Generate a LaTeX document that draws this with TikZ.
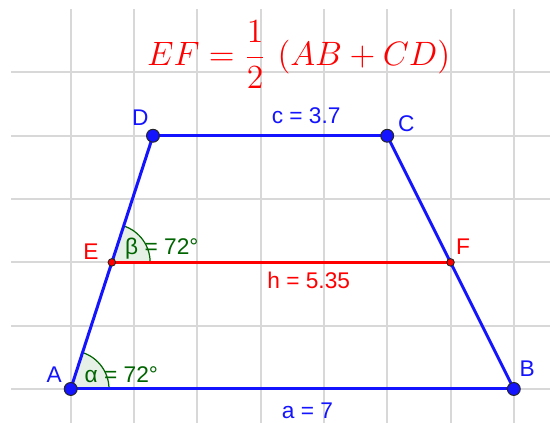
\documentclass[tikz,border=0pt]{standalone}
\usepackage{fontspec}
\setmainfont{Liberation Sans}
\usepackage{graphicx}
\usepackage{xcolor}
\usepackage{tikz}
\definecolor{gridgray}{HTML}{D8D8D8}
\definecolor{geoblue}{HTML}{1414FF}
\definecolor{geored}{HTML}{FF0000}
\definecolor{anggreen}{HTML}{006400}
\definecolor{angbg}{HTML}{E6F0E6}
\tikzset{
  gridline/.style={draw=gridgray, line width=0.9pt},
  sideseg/.style={draw=geoblue, line width=1.35pt},
  midseg/.style={draw=geored, line width=1.15pt},
  bigpt/.style={circle, fill=geoblue, draw=black!85, line width=0.45pt, minimum size=5.8pt, inner sep=0pt},
  smallpt/.style={circle, fill=geored, draw=black!85, line width=0.4pt, minimum size=3.4pt, inner sep=0pt},
  angsector/.style={fill=angbg, draw=anggreen, line width=0.55pt},
  ptlabel/.style={anchor=base, inner sep=0pt, font=\fontsize{10.2}{12}\selectfont},
  bluelabel/.style={ptlabel, text=geoblue},
  redlabel/.style={ptlabel, text=geored},
  anglabel/.style={ptlabel, text=anggreen}
}

\begin{document}
\begin{tikzpicture}[x=1cm,y=1cm]

  % frame
  \useasboundingbox[fill=white] (-1.117,-0.537) rectangle (7.572,6.145);

  % grid
  \foreach \gx in {0,...,7} \draw[gridline] (\gx,-0.537) -- (\gx,6.003);
  \foreach \gy in {0,...,5} \draw[gridline] (-0.943,\gy) -- (7.572,\gy);

  % vertices
  \coordinate (A) at (0,0);
  \coordinate (B) at (7,0);
  \coordinate (C) at (5,4);
  \coordinate (D) at (1.3,4);
  \coordinate (E) at (0.65,2);
  \coordinate (F) at (6,2);

  % angles
  \draw[angsector] (A) -- ++(0:0.605) arc[start angle=0, end angle=72, radius=0.605] -- cycle;
  \draw[angsector] (E) -- ++(0:0.605) arc[start angle=0, end angle=72, radius=0.605] -- cycle;

  % trapezoid
  \draw[sideseg] (A) -- (B);
  \draw[sideseg] (B) -- (C);
  \draw[sideseg] (C) -- (D);
  \draw[sideseg] (D) -- (A);

  % midline
  \draw[midseg] (E) -- (F);

  % points
  \node[bigpt] (pA) at (A) {};
  \node[bigpt] (pB) at (B) {};
  \node[bigpt] (pC) at (C) {};
  \node[bigpt] (pD) at (D) {};
  \node[smallpt] (pE) at (E) {};
  \node[smallpt] (pF) at (F) {};

  % labels
  \node[bluelabel] (labA) at (-0.26,0.10) {A};
  \node[bluelabel] (labB) at (7.21,0.19) {B};
  \node[bluelabel] (labC) at (5.30,4.06) {C};
  \node[bluelabel] (labD) at (1.10,4.155) {D};
  \node[redlabel] (labE) at (0.32,2.04) {E};
  \node[redlabel] (labF) at (6.20,2.12) {F};

  \node[bluelabel] (labc) at (3.72,4.19) {c = 3.7};
  \node[redlabel] (labh) at (3.76,1.58) {h = 5.35};
  \node[bluelabel] (laba) at (3.74,-0.47) {a = 7};

  \node[anglabel] (alpha) at (0.80,0.11) {α = 72°};
  \node[anglabel] (beta) at (1.44,2.12) {β = 72°};

  % formula
  \node[anchor=base west, inner sep=0pt, text=geored, font=\fontsize{14.4}{17}\selectfont] (formula) at (1.20,5.11) {\scalebox{1.055}{$\displaystyle EF=\frac{1}{2}\,\left(AB+CD\right)$}};

\end{tikzpicture}
\end{document}
